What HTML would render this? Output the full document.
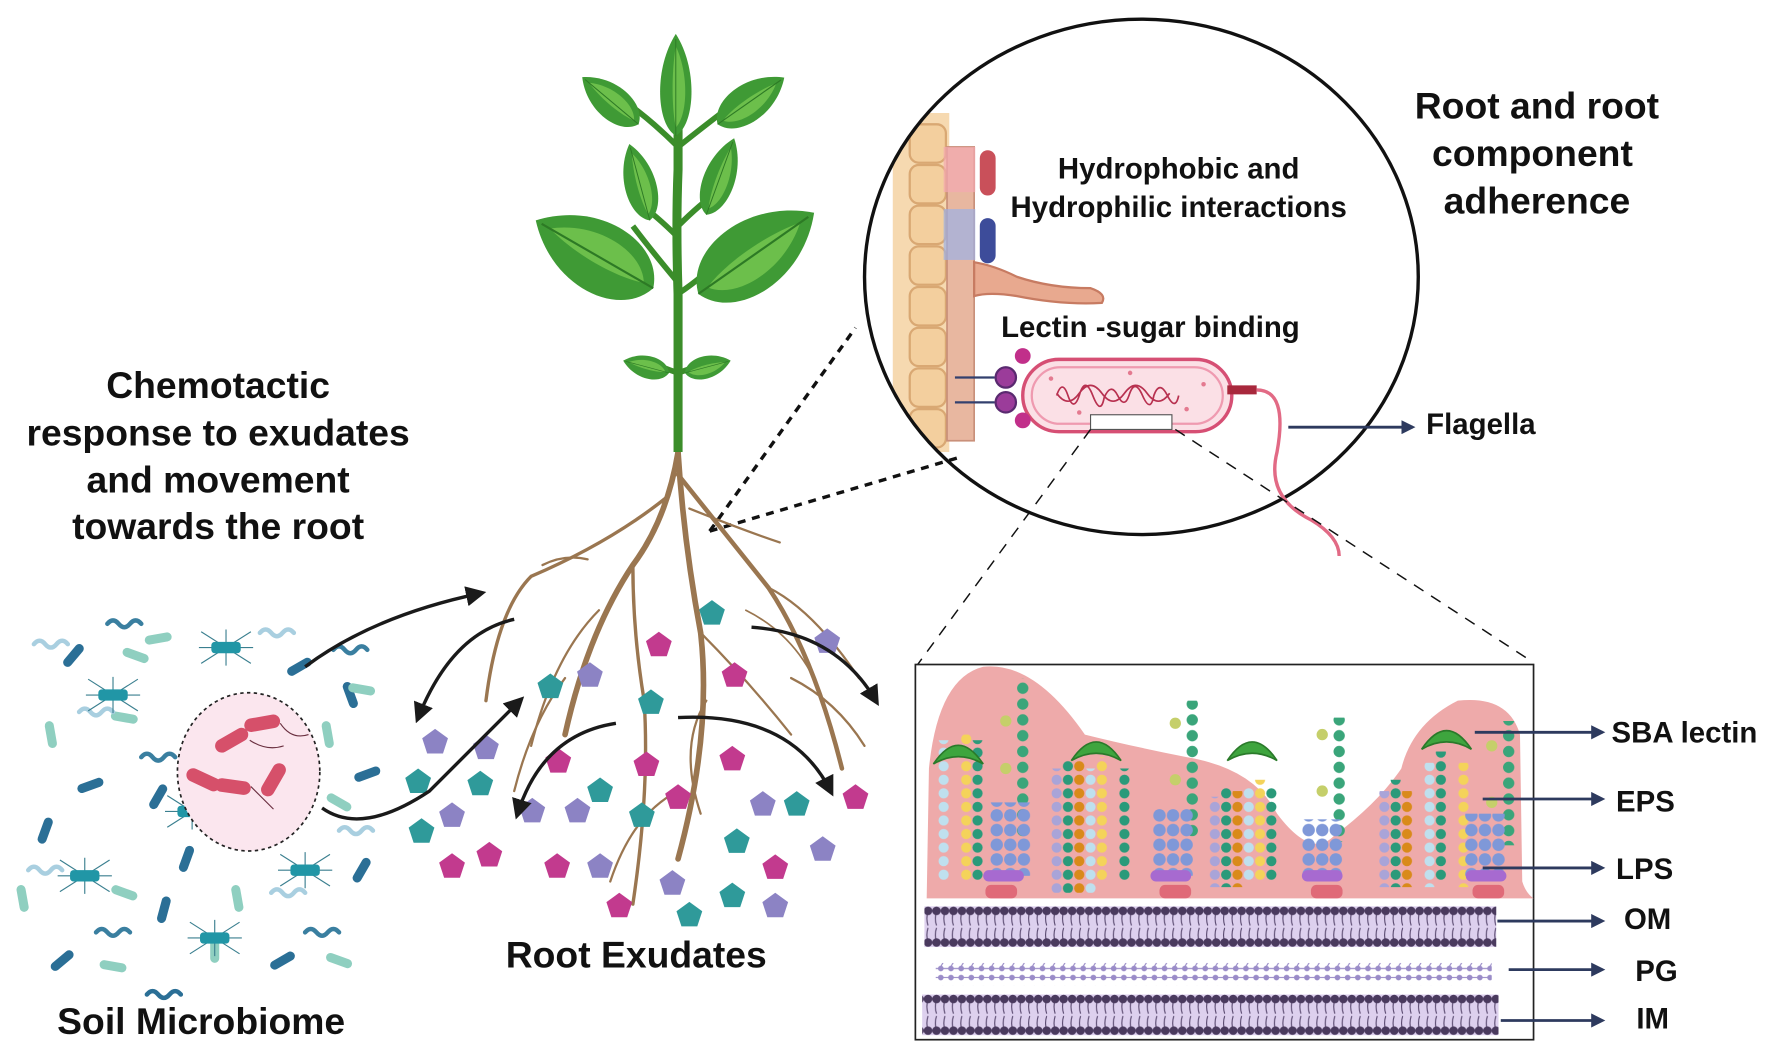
<!DOCTYPE html>
<html><head><meta charset="utf-8"><style>
html,body{margin:0;padding:0;background:#fff}
svg{display:block}
text{font-family:"Liberation Sans",sans-serif;font-weight:bold;fill:#111}
</style></head><body>
<svg width="1772" height="1051" viewBox="0 0 1568 930" preserveAspectRatio="none" xmlns="http://www.w3.org/2000/svg">
<defs>
<marker id="ah" viewBox="0 0 10 10" refX="8" refY="5" markerWidth="5" markerHeight="5" orient="auto"><path d="M0,0L10,5L0,10z" fill="#2d3a5e"/></marker>
<marker id="bh" viewBox="0 0 10 10" refX="7" refY="5" markerWidth="6" markerHeight="6" orient="auto"><path d="M0,0L10,5L0,10z" fill="#1a1a1a"/></marker>
<clipPath id="cc"><ellipse cx="1010" cy="245" rx="245" ry="228"/></clipPath>
<polygon id="pg" points="0,-12 11.4,-3.7 7,9.7 -7,9.7 -11.4,-3.7"/>
<pattern id="mem1" x="0" y="802" width="7.5" height="36" patternUnits="userSpaceOnUse">
<rect width="7.5" height="36" fill="#ddd0ee"/>
<path d="M3.7,4 q-2,7 0,13 M3.7,32 q-2,-7 0,-13" stroke="#5a4a70" stroke-width="1" fill="none"/>
<circle cx="3.7" cy="4" r="3.8" fill="#4a3a5e"/><circle cx="3.7" cy="32" r="3.8" fill="#4a3a5e"/>
</pattern>
<pattern id="mem2" x="0" y="880" width="7.5" height="36" patternUnits="userSpaceOnUse">
<rect width="7.5" height="36" fill="#ddd0ee"/>
<path d="M3.7,4 q-2,7 0,13 M3.7,32 q-2,-7 0,-13" stroke="#5a4a70" stroke-width="1" fill="none"/>
<circle cx="3.7" cy="4" r="3.8" fill="#4a3a5e"/><circle cx="3.7" cy="32" r="3.8" fill="#4a3a5e"/>
</pattern>
<pattern id="pgp" x="0" y="852" width="9" height="20" patternUnits="userSpaceOnUse">
<path d="M0,5H9M0,13H9M4,4l3,-5" stroke="#9a8cc8" stroke-width="1"/>
<circle cx="4.5" cy="5" r="2.5" fill="#9a8cc8"/><circle cx="4.5" cy="13" r="2.5" fill="#9a8cc8"/>
</pattern>
<pattern id="c1" width="10" height="12" patternUnits="userSpaceOnUse"><circle cx="5" cy="6" r="4.5" fill="#bfe0ee"/></pattern>
<pattern id="c2" width="10" height="12" patternUnits="userSpaceOnUse"><circle cx="5" cy="6" r="4.5" fill="#f4d35a"/></pattern>
<pattern id="c3" width="10" height="12" patternUnits="userSpaceOnUse"><circle cx="5" cy="6" r="4.5" fill="#2a9a7a"/></pattern>
<pattern id="c4" width="10" height="12" patternUnits="userSpaceOnUse"><circle cx="5" cy="6" r="4.5" fill="#a9a4d8"/></pattern>
<pattern id="c5" width="10" height="12" patternUnits="userSpaceOnUse"><circle cx="5" cy="6" r="4.5" fill="#d98a1a"/></pattern>
<pattern id="c6" width="10" height="14" patternUnits="userSpaceOnUse"><circle cx="5" cy="7" r="5" fill="#3aa57a"/></pattern>
<pattern id="hx" width="12" height="13" patternUnits="userSpaceOnUse"><circle cx="6" cy="6.5" r="5.5" fill="#7f98d8"/></pattern>
<g id="lec"><path d="M-22,8 Q0,-25 22,8 Q0,-5 -22,8z" fill="#3ea53e" stroke="#2a7a2a" stroke-width="1.5"/></g>
<g id="bac"><rect x="-12" y="-4" width="24" height="8" rx="4"/></g>
<g id="bug"><path d="M-22,-14L22,14M-22,14L22,-14M0,-16V16M-24,0H24" stroke="#3a7f8f" stroke-width="1"/><rect x="-13" y="-5" width="26" height="10" rx="3" fill="#2196a6"/></g>
<g id="wig"><path d="M0,0 q5,-6 10,0 t10,0 t10,0" fill="none" stroke-width="4" stroke-linecap="round"/></g>
<g id="leaf"><path d="M0,0 C40,-10 48,-65 0,-100 C-48,-65 -40,-10 0,0z" fill="#3f9a35"/><path d="M0,-8 C25,-20 28,-60 0,-88 C-10,-60 -8,-25 0,-8z" fill="#6cbf4b"/><path d="M0,0 L0,-95" stroke="#2d7a25" stroke-width="2"/></g>
</defs>

<!-- texts -->
<g font-size="33" text-anchor="middle">
<text x="193" y="352">Chemotactic</text>
<text x="193" y="394">response to exudates</text>
<text x="193" y="436">and movement</text>
<text x="193" y="477">towards the root</text>
<text x="1360" y="105">Root and root</text>
<text x="1356" y="147">component</text>
<text x="1360" y="189">adherence</text>
<text x="563" y="856">Root Exudates</text>
<text x="178" y="915">Soil Microbiome</text>
</g>
<g font-size="26">
<text x="1043" y="158" text-anchor="middle">Hydrophobic and</text>
<text x="1043" y="192" text-anchor="middle">Hydrophilic interactions</text>
<text x="1018" y="298" text-anchor="middle">Lectin -sugar binding</text>
<text x="1262" y="384">Flagella</text>
<text x="1426" y="657">SBA lectin</text>
<text x="1430" y="718">EPS</text>
<text x="1430" y="778">LPS</text>
<text x="1437" y="822">OM</text>
<text x="1447" y="868">PG</text>
<text x="1448" y="910">IM</text>
</g>

<!-- circle zoom -->
<g clip-path="url(#cc)">
<rect x="790" y="100" width="50" height="300" fill="#f6d9b0"/>
<g fill="#f3cf9e" stroke="#d9a873" stroke-width="2">
<rect x="805" y="110" width="32" height="34" rx="8"/><rect x="805" y="146" width="32" height="34" rx="8"/><rect x="805" y="182" width="32" height="34" rx="8"/><rect x="805" y="218" width="32" height="34" rx="8"/><rect x="805" y="254" width="32" height="34" rx="8"/><rect x="805" y="290" width="32" height="34" rx="8"/><rect x="805" y="326" width="32" height="34" rx="8"/><rect x="805" y="362" width="32" height="34" rx="8"/>
</g>
<rect x="838" y="130" width="24" height="260" fill="#e8b7a0" stroke="#c9907a" stroke-width="1.5"/>
<rect x="835" y="130" width="28" height="40" fill="#f4a8b0" opacity=".7"/>
<rect x="835" y="185" width="28" height="45" fill="#9db0e6" opacity=".7"/>
</g>
<rect x="867" y="133" width="14" height="40" rx="7" fill="#c9505a"/>
<rect x="867" y="193" width="14" height="40" rx="7" fill="#3d4c9a"/>
<path d="M862,232 Q880,235 900,245 Q930,255 965,255 Q980,260 975,268 Q940,270 900,262 Q875,258 862,262z" fill="#e8a98f" stroke="#c77b62" stroke-width="2"/>
<ellipse cx="1010" cy="245" rx="245" ry="228" fill="none" stroke="#111" stroke-width="3"/>
<!-- bacterium -->
<rect x="905" y="318" width="185" height="64" rx="32" fill="#fbe0e6" stroke="#d64f74" stroke-width="3"/>
<rect x="913" y="325" width="169" height="50" rx="25" fill="none" stroke="#ef9ab0" stroke-width="2"/>
<path d="M935,350 q5,-15 10,0 t10,0 q5,-18 12,0 t10,2 q6,-14 12,-2 t10,0 q5,-16 12,0 t10,0 q5,-14 12,0 t10,0 M935,348 q10,14 20,0 t20,0 t20,0 t20,0 t20,0" fill="none" stroke="#b83150" stroke-width="1.5"/>
<g fill="#e47a90"><circle cx="930" cy="335" r="2"/><circle cx="1065" cy="340" r="2"/><circle cx="1050" cy="362" r="2"/><circle cx="955" cy="365" r="2"/><circle cx="1000" cy="330" r="2"/></g>
<rect x="965" y="367" width="72" height="13" fill="#fff" stroke="#555" stroke-width="1"/>
<path d="M1086,345 L1112,345" stroke="#a8283c" stroke-width="8"/>
<path d="M1112,345 Q1140,345 1130,400 Q1120,440 1160,460 Q1185,475 1185,492" fill="none" stroke="#e26a85" stroke-width="3"/>
<circle cx="905" cy="315" r="7" fill="#c12f8a"/><circle cx="905" cy="372" r="7" fill="#c12f8a"/>
<path d="M845,334H880M845,356H880" stroke="#33406e" stroke-width="2"/>
<circle cx="890" cy="334" r="9" fill="#9b3c9a" stroke="#5a2a70" stroke-width="2"/><circle cx="890" cy="356" r="9" fill="#9b3c9a" stroke="#5a2a70" stroke-width="2"/>
<!-- dashed -->
<g stroke="#111" stroke-width="3" stroke-dasharray="7,6" fill="none">
<path d="M628,470 L757,290"/><path d="M628,470 L848,405"/>
</g>
<g stroke="#111" stroke-width="1.3" stroke-dasharray="10,8" fill="none">
<path d="M965,380 L812,588"/><path d="M1040,380 L1355,585"/>
</g>
<path d="M1140,378 L1250,378" stroke="#2d3a5e" stroke-width="2.5" marker-end="url(#ah)"/>

<!-- box -->
<rect x="810" y="588" width="547" height="332" fill="#fff" stroke="#222" stroke-width="1.5"/>
<path d="M820,795 L822,680 Q830,600 870,590 Q915,585 960,650 Q1000,660 1050,670 Q1110,680 1130,720 Q1160,760 1180,740 Q1220,710 1240,680 Q1250,640 1290,620 Q1335,615 1345,650 L1347,780 Q1350,790 1357,795z" fill="#eeaaaa"/>
<!-- chains -->
<rect x="830" y="655" width="10" height="125" fill="url(#c1)"/>
<rect x="850" y="650" width="10" height="130" fill="url(#c2)"/>
<rect x="860" y="655" width="10" height="125" fill="url(#c3)"/>
<rect x="930" y="680" width="10" height="110" fill="url(#c4)"/>
<rect x="940" y="672" width="10" height="118" fill="url(#c3)"/>
<rect x="950" y="672" width="10" height="118" fill="url(#c5)"/>
<rect x="960" y="680" width="10" height="110" fill="url(#c1)"/>
<rect x="970" y="670" width="10" height="110" fill="url(#c2)"/>
<rect x="990" y="680" width="10" height="100" fill="url(#c3)"/>
<rect x="1070" y="705" width="10" height="80" fill="url(#c4)"/>
<rect x="1080" y="695" width="10" height="90" fill="url(#c3)"/>
<rect x="1090" y="700" width="10" height="85" fill="url(#c5)"/>
<rect x="1100" y="695" width="10" height="85" fill="url(#c1)"/>
<rect x="1110" y="690" width="10" height="90" fill="url(#c2)"/>
<rect x="1120" y="695" width="10" height="85" fill="url(#c3)"/>
<rect x="1220" y="700" width="10" height="85" fill="url(#c4)"/>
<rect x="1230" y="690" width="10" height="95" fill="url(#c3)"/>
<rect x="1240" y="700" width="10" height="85" fill="url(#c5)"/>
<rect x="1260" y="675" width="10" height="110" fill="url(#c1)"/>
<rect x="1270" y="665" width="10" height="115" fill="url(#c3)"/>
<rect x="1290" y="675" width="10" height="110" fill="url(#c2)"/>
<!-- tall green chains -->
<rect x="900" y="600" width="10" height="140" fill="url(#c6)"/>
<rect x="1050" y="620" width="10" height="120" fill="url(#c6)"/>
<rect x="1180" y="635" width="10" height="110" fill="url(#c6)"/>
<rect x="1330" y="638" width="10" height="110" fill="url(#c6)"/>
<g fill="#c5cf6a"><circle cx="890" cy="638" r="5"/><circle cx="890" cy="680" r="5"/><circle cx="1040" cy="640" r="5"/><circle cx="1040" cy="690" r="5"/><circle cx="1170" cy="650" r="5"/><circle cx="1170" cy="700" r="5"/><circle cx="1320" cy="660" r="5"/><circle cx="1320" cy="710" r="5"/></g>
<!-- LPS stacks -->
<rect x="876" y="710" width="36" height="65" fill="url(#hx)"/>
<rect x="1020" y="715" width="36" height="60" fill="url(#hx)"/>
<rect x="1152" y="725" width="36" height="50" fill="url(#hx)"/>
<rect x="1296" y="720" width="36" height="55" fill="url(#hx)"/>
<g fill="#a76ad0"><rect x="870" y="770" width="36" height="10" rx="5"/><rect x="1018" y="770" width="36" height="10" rx="5"/><rect x="1152" y="770" width="36" height="10" rx="5"/><rect x="1297" y="770" width="36" height="10" rx="5"/></g>
<g fill="#e06a78"><rect x="872" y="783" width="28" height="12" rx="5"/><rect x="1026" y="783" width="28" height="12" rx="5"/><rect x="1160" y="783" width="28" height="12" rx="5"/><rect x="1303" y="783" width="28" height="12" rx="5"/></g>
<!-- lectins -->
<use href="#lec" x="848" y="668"/><use href="#lec" x="970" y="665"/><use href="#lec" x="1108" y="665"/><use href="#lec" x="1280" y="655"/>
<!-- membranes -->
<rect x="818" y="802" width="506" height="36" fill="url(#mem1)"/>
<rect x="828" y="852" width="492" height="20" fill="url(#pgp)"/>
<rect x="816" y="880" width="510" height="36" fill="url(#mem2)"/>
<!-- box label arrows -->
<g stroke="#2d3a5e" stroke-width="2.5" marker-end="url(#ah)">
<path d="M1305,648H1418"/><path d="M1312,707H1418"/><path d="M1312,768H1418"/><path d="M1325,815H1418"/><path d="M1335,858H1418"/><path d="M1328,903H1418"/>
</g>

<!-- plant roots -->
<g fill="none" stroke="#9a7650" stroke-linecap="round">
<path d="M600,400 Q590,460 560,500 Q520,560 500,650" stroke-width="5"/>
<path d="M600,400 Q605,480 620,560 Q630,650 600,760" stroke-width="5"/>
<path d="M600,420 Q640,470 680,520 Q720,580 745,680" stroke-width="4"/>
<path d="M590,440 Q540,480 470,510 Q440,540 430,620" stroke-width="3"/>
<path d="M560,500 Q560,560 570,620 Q575,700 560,800" stroke-width="3"/>
<path d="M620,560 Q660,600 700,650" stroke-width="2"/>
<path d="M610,450 Q660,470 690,480" stroke-width="2"/>
<path d="M530,540 Q490,580 470,660" stroke-width="2"/>
<path d="M680,520 Q720,540 760,600" stroke-width="2"/>
<path d="M600,700 Q560,720 540,780" stroke-width="2"/>
<path d="M625,620 Q600,660 620,720" stroke-width="2"/>
<path d="M500,600 Q470,640 455,700" stroke-width="2"/>
<path d="M700,600 Q740,620 765,660" stroke-width="2"/>
<path d="M480,500 Q500,490 520,495" stroke-width="2"/>
<path d="M660,540 Q700,560 720,600" stroke-width="1.5"/>
</g>
<!-- stem -->
<path d="M600,400 L600,260 Q598,200 600,150 L600,110" stroke="#3b8d2a" stroke-width="8" fill="none"/>
<path d="M600,250 Q575,220 560,200 M600,260 Q630,240 650,215 M600,130 Q580,110 560,95 M600,130 Q625,110 645,95 M600,330 Q585,325 575,320 M600,330 Q615,325 625,320 M600,210 Q580,190 565,180 M600,200 Q620,180 635,170" stroke="#3b8d2a" stroke-width="5" fill="none"/>
<!-- leaves -->
<use href="#leaf" transform="translate(598,120) scale(0.42,0.9)"/>
<use href="#leaf" transform="translate(565,110) rotate(-50) scale(0.45,0.65)"/>
<use href="#leaf" transform="translate(635,110) rotate(55) scale(0.5,0.72)"/>
<use href="#leaf" transform="translate(575,195) rotate(-15) scale(0.42,0.7)"/>
<use href="#leaf" transform="translate(625,190) rotate(20) scale(0.42,0.72)"/>
<use href="#leaf" transform="translate(578,255) rotate(-60) scale(0.95,1.2)"/>
<use href="#leaf" transform="translate(618,260) rotate(55) scale(0.95,1.25)"/>
<use href="#leaf" transform="translate(592,330) rotate(-75) scale(0.3,0.42)"/>
<use href="#leaf" transform="translate(606,330) rotate(75) scale(0.3,0.42)"/>
<!-- pentagons -->
<g fill="#2f9a9a">
<use href="#pg" x="630" y="543"/><use href="#pg" x="487" y="608"/><use href="#pg" x="576" y="622"/><use href="#pg" x="370" y="692"/><use href="#pg" x="425" y="694"/><use href="#pg" x="531" y="700"/><use href="#pg" x="705" y="712"/><use href="#pg" x="373" y="736"/><use href="#pg" x="568" y="722"/><use href="#pg" x="652" y="745"/><use href="#pg" x="648" y="793"/><use href="#pg" x="610" y="810"/>
</g>
<g fill="#8c83c4">
<use href="#pg" x="732" y="568"/><use href="#pg" x="522" y="598"/><use href="#pg" x="385" y="657"/><use href="#pg" x="430" y="662"/><use href="#pg" x="675" y="712"/><use href="#pg" x="400" y="722"/><use href="#pg" x="471" y="718"/><use href="#pg" x="511" y="718"/><use href="#pg" x="531" y="767"/><use href="#pg" x="728" y="752"/><use href="#pg" x="595" y="782"/><use href="#pg" x="686" y="802"/>
</g>
<g fill="#c23a8e">
<use href="#pg" x="583" y="571"/><use href="#pg" x="650" y="598"/><use href="#pg" x="494" y="674"/><use href="#pg" x="572" y="677"/><use href="#pg" x="648" y="672"/><use href="#pg" x="600" y="706"/><use href="#pg" x="757" y="706"/><use href="#pg" x="400" y="767"/><use href="#pg" x="433" y="757"/><use href="#pg" x="493" y="767"/><use href="#pg" x="686" y="768"/><use href="#pg" x="548" y="802"/>
</g>

<!-- soil microbiome -->
<g>
<g fill="#2b6f96">
<use href="#bac" transform="translate(65,580) rotate(-50)"/><use href="#bac" transform="translate(265,590) rotate(-30)"/><use href="#bac" transform="translate(80,695) rotate(-20)"/><use href="#bac" transform="translate(140,705) rotate(-60)"/><use href="#bac" transform="translate(40,735) rotate(-70)"/><use href="#bac" transform="translate(165,760) rotate(-70)"/><use href="#bac" transform="translate(230,740) rotate(-60)"/><use href="#bac" transform="translate(325,685) rotate(-20)"/><use href="#bac" transform="translate(55,850) rotate(-40)"/><use href="#bac" transform="translate(250,850) rotate(-30)"/><use href="#bac" transform="translate(145,805) rotate(-75)"/><use href="#bac" transform="translate(310,615) rotate(70)"/><use href="#bac" transform="translate(320,770) rotate(-60)"/>
</g>
<g fill="#8fcfc0">
<use href="#bac" transform="translate(120,580) rotate(20)"/><use href="#bac" transform="translate(140,565) rotate(-10)"/><use href="#bac" transform="translate(45,650) rotate(80)"/><use href="#bac" transform="translate(110,635) rotate(10)"/><use href="#bac" transform="translate(290,650) rotate(80)"/><use href="#bac" transform="translate(20,795) rotate(80)"/><use href="#bac" transform="translate(110,790) rotate(20)"/><use href="#bac" transform="translate(210,795) rotate(80)"/><use href="#bac" transform="translate(300,710) rotate(30)"/><use href="#bac" transform="translate(100,855) rotate(10)"/><use href="#bac" transform="translate(300,850) rotate(20)"/><use href="#bac" transform="translate(320,610) rotate(10)"/><use href="#bac" transform="translate(190,690) rotate(90)"/><use href="#bac" transform="translate(190,840) rotate(90)"/>
</g>
<g stroke="#3a7fa0">
<use href="#wig" x="95" y="552"/><use href="#wig" x="295" y="575"/><use href="#wig" x="125" y="670"/><use href="#wig" x="85" y="825"/><use href="#wig" x="270" y="825"/><use href="#wig" x="130" y="880" stroke="#2b6f96"/>
</g>
<g stroke="#a9cfe0">
<use href="#wig" x="30" y="570"/><use href="#wig" x="230" y="560"/><use href="#wig" x="25" y="770"/><use href="#wig" x="300" y="735"/><use href="#wig" x="240" y="790"/><use href="#wig" x="70" y="630"/>
</g>
<use href="#bug" x="100" y="615"/><use href="#bug" x="170" y="718"/><use href="#bug" x="75" y="775"/><use href="#bug" x="270" y="770"/><use href="#bug" x="200" y="573"/>
<use href="#bug" x="190" y="830"/>
</g>
<ellipse cx="220" cy="683" rx="63" ry="70" fill="#fbe6ee" stroke="#222" stroke-width="1.5" stroke-dasharray="3,3"/>
<g fill="#d6506a">
<rect x="189" y="649" width="32" height="12" rx="6" transform="rotate(-30 205 655)"/>
<rect x="216" y="634" width="32" height="12" rx="6" transform="rotate(-10 232 640)"/>
<rect x="164" y="684" width="32" height="12" rx="6" transform="rotate(25 180 690)"/>
<rect x="190" y="690" width="32" height="12" rx="6" transform="rotate(8 206 696)"/>
<rect x="226" y="684" width="32" height="12" rx="6" transform="rotate(-60 242 690)"/>
</g>
<g fill="none" stroke="#6a3040" stroke-width="1"><path d="M221,655 q15,10 30,5"/><path d="M248,640 q10,15 25,10"/><path d="M222,696 q10,10 20,20"/></g>

<!-- black arrows -->
<g fill="none" stroke="#1a1a1a" stroke-width="3" marker-end="url(#bh)">
<path d="M270,590 Q330,545 425,525"/>
<path d="M455,548 Q400,560 370,635"/>
<path d="M285,715 Q320,740 380,700 Q420,660 460,620"/>
<path d="M665,555 Q740,560 775,620"/>
<path d="M545,640 Q480,650 458,720"/>
<path d="M600,635 Q700,630 735,700"/>
</g>
</svg>
</body></html>
